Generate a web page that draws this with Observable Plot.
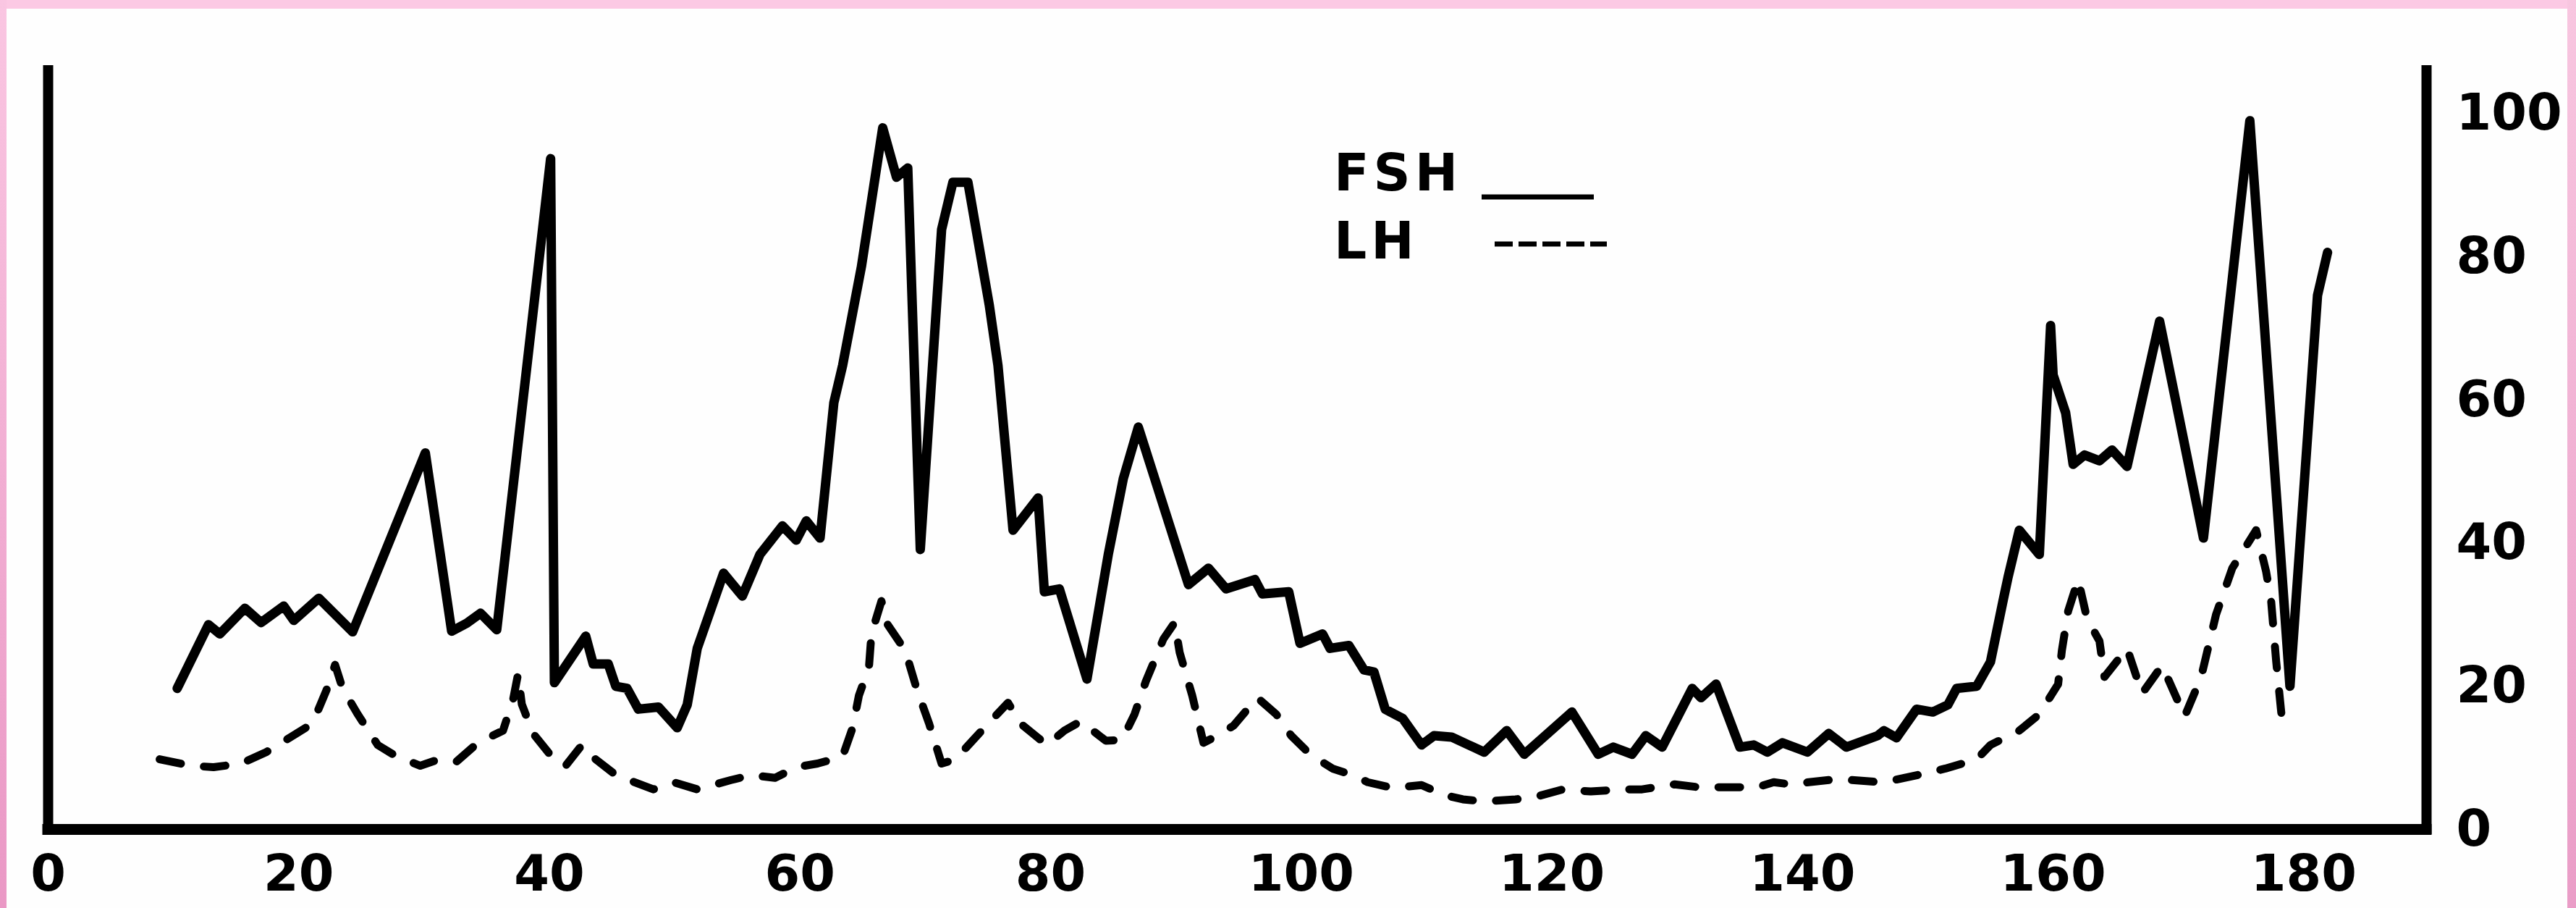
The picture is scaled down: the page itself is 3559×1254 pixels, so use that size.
<!DOCTYPE html>
<html>
<head>
<meta charset="utf-8">
<script src="https://cdn.jsdelivr.net/npm/d3@7"></script>
<script src="https://cdn.jsdelivr.net/npm/@observablehq/plot@0.6"></script>
<style>
  html, body { margin: 0; padding: 0; background: #ffffff; }
  #wrap { position: relative; width: 3559px; height: 1254px; overflow: hidden; background: #fefefe;
          font-family: "DejaVu Sans", sans-serif; font-weight: bold; color: #000; }
  #chart { position: absolute; left: 0; top: 0; }
  .strip { position: absolute; }
  #stripTop { left: 0; top: 0; width: 3559px; height: 12px; background: #fcc9e4; }
  #stripLeft { left: 0; top: 0; width: 9px; height: 1254px; background: linear-gradient(#fac6e2, #ea98c5); }
  #stripRight { left: 3547px; top: 0; width: 12px; height: 1254px; background: linear-gradient(#f8c6e0, #ea9dc7); }
  #legend { position: absolute; left: 1843px; top: 204px; }
  .item { position: relative; height: 94px; }
  .item .lab { position: absolute; left: 0; top: 0; font-size: 71px; line-height: 70px; letter-spacing: 6px; white-space: nowrap; }
  .item svg { position: absolute; }
</style>
</head>
<body>
<div id="wrap">
  <div class="strip" id="stripTop"></div>
  <div class="strip" id="stripLeft"></div>
  <div class="strip" id="stripRight"></div>
  <div id="chart"></div>
  <div id="legend"></div>
</div>
<script>
// Cycle day (x) and hormone level (y)
const fshDay = [10.3, 12.8, 13.7, 15.7, 17.0, 18.8, 19.6, 21.6, 24.3, 30.1, 32.2, 33.4, 34.5, 35.8, 40.1, 40.4,
  42.9, 43.5, 44.7, 45.3, 46.2, 47.1, 48.7, 50.2, 51.0, 51.8, 53.9, 55.4, 56.8, 58.6, 59.7, 60.5, 61.6, 62.7,
  63.4, 64.9, 66.6, 67.7, 68.6, 69.6, 71.3, 72.2, 73.4, 75.1, 75.8, 77.0, 79.0, 79.5, 80.7, 82.9, 84.6, 85.8,
  87.0, 91.0, 92.6, 94.0, 96.3, 96.9, 99.0, 99.9, 101.7, 102.3, 103.8, 105.0, 105.8, 106.7, 108.1, 109.6,
  110.6, 112.0, 114.6, 116.4, 117.8, 121.6, 123.7, 124.9, 126.4, 127.5, 128.8, 131.2, 131.9, 133.1, 135.0,
  136.1, 137.2, 138.4, 140.4, 142.1, 143.5, 146.0, 146.5, 147.5, 149.1, 150.4, 151.6, 152.3, 153.9, 155.0,
  156.0, 156.4, 157.3, 158.9, 159.8, 160.0, 161.0, 161.6, 162.5, 163.7, 164.7, 165.9, 168.5, 172.0, 175.7,
  178.9, 181.1, 181.9];
const fshValue = [19.7, 28.6, 27.3, 30.9, 28.9, 31.2, 29.2, 32.3, 27.6, 52.6, 27.7, 28.8, 30.2, 27.9, 93.7, 20.5,
  27.0, 23.1, 23.1, 20.0, 19.7, 16.8, 17.1, 14.2, 17.4, 25.3, 35.8, 32.6, 38.4, 42.4, 40.4, 43.1, 40.7, 59.6,
  64.8, 78.6, 98.0, 91.1, 92.4, 39.1, 83.8, 90.4, 90.4, 73.3, 64.8, 41.8, 46.3, 33.2, 33.6, 21.0, 38.4, 49.0,
  56.2, 34.2, 36.5, 33.6, 34.9, 32.9, 33.2, 26.0, 27.3, 25.3, 25.7, 22.3, 22.0, 16.8, 15.5, 11.8,
  13.1, 12.9, 10.8, 13.8, 10.5, 16.4, 10.5, 11.5, 10.5, 13.1, 11.5, 19.7, 18.4, 20.3, 11.5,
  11.8, 10.8, 12.1, 10.8, 13.4, 11.5, 13.1, 13.8, 12.8, 16.8, 16.4, 17.4, 19.7, 20.0, 23.4,
  31.9, 35.2, 41.8, 38.4, 70.4, 63.5, 58.2, 51.0, 52.3, 51.5, 53.0, 50.7, 71.0, 40.7, 99.0,
  20.0, 74.6, 80.6];

const lhDay = [8.9, 11.4, 13.2, 15.4, 17.4, 18.9, 21.1, 22.2, 22.9, 23.5, 24.7, 26.3, 27.8, 29.7, 31.2, 32.6,
  34.3, 36.3, 37.1, 37.5, 37.8, 38.7, 40.5, 41.3, 42.6, 43.4, 45.3, 48.3, 49.9, 51.8, 54.5, 56.1, 58.0, 59.7,
  61.4, 63.4, 64.2, 64.7, 65.5, 65.7, 66.5, 67.0, 68.4, 69.3, 70.3, 71.3, 72.4, 74.5, 76.6, 77.6, 79.0, 79.7,
  81.1, 82.4, 84.4, 85.7, 86.7, 87.6, 89.0, 89.9, 90.3, 91.3, 92.2, 93.3, 94.6, 96.5, 98.0, 99.2, 100.7,
  102.5, 104.1, 105.3, 107.3, 109.6, 111.4, 112.9, 114.6, 117.1, 118.8, 120.9, 123.1, 125.7, 127.2, 129.8,
  131.7, 134.4, 136.4, 137.7, 139.0, 142.1, 143.9, 146.2, 147.3, 150.0, 151.4, 153.9, 155.0, 157.3, 158.9,
  160.4, 160.7, 161.2, 162.0, 162.7, 163.7, 164.1, 165.9, 167.1, 168.7, 170.5, 171.8, 173.0, 174.3, 176.2,
  177.0, 177.4, 177.8, 178.3];
const lhValue = [9.8, 8.9, 8.7, 9.2, 10.8, 12.4, 14.8, 19.4, 23.0, 19.7, 16.1, 11.8, 10.2, 8.9, 9.8, 9.5,
  12.1, 13.8, 18.1, 21.7, 17.5, 13.4, 9.5, 8.9, 11.8, 10.2, 7.6, 5.6, 6.6, 5.6, 6.9, 7.6, 7.2, 8.7,
  9.2, 10.2, 14.2, 18.7, 22.6, 27.3, 31.9, 28.6, 25.0, 19.7, 14.8, 9.2, 9.8, 13.8, 17.7, 14.8, 12.8, 11.8,
  13.8, 15.1, 12.4, 12.5, 16.1, 20.7, 26.6, 28.9, 24.7, 18.7, 12.1, 13.1, 14.5, 18.4, 16.1, 13.1, 10.5,
  8.5, 7.6, 6.6, 5.8, 6.2, 4.8, 4.2, 3.9, 4.2, 4.6, 5.6, 5.3, 5.6, 5.6, 6.3,
  5.9, 5.9, 5.9, 6.6, 6.3, 6.9, 6.9, 6.6, 6.9, 7.9, 8.5, 9.8, 11.8, 13.8, 16.1,
  20.3, 25.0, 30.5, 34.9, 29.5, 26.3, 21.3, 25.3, 19.0, 22.9, 15.8, 21.2, 30.0, 36.5, 41.8,
  36.0, 31.9, 23.5, 14.7];

const xTicks = [0, 20, 40, 60, 80, 100, 120, 140, 160, 180];
const yTicks = [0, 20, 40, 60, 80, 100];
const xExtent = [0, 189.8];  // day range; also the left and right vertical axis lines
const yExtent = [0, 106];
const baseLine = [0];        // horizontal axis line (level)
const seriesNames = ["FSH", "LH"];
const seriesDash = [null, "25,8"];

const fsh = fshDay.map((d, i) => ({day: d, value: fshValue[i]}));
const lh = lhDay.map((d, i) => ({day: d, value: lhValue[i]}));

const chart = Plot.plot({
  width: 3559,
  height: 1254,
  marginTop: 97,
  marginBottom: 109,
  marginLeft: 66,
  marginRight: 207,
  style: {background: "transparent", fontFamily: "'DejaVu Sans', sans-serif", fontWeight: "bold",
          fontSize: "70px", color: "#000", overflow: "visible"},
  x: {domain: xExtent, ticks: xTicks, tickSize: 0, tickPadding: 35,
      label: null, axis: "bottom", tickFormat: d3.format("d")},
  y: {domain: yExtent, ticks: yTicks, tickSize: 0, tickPadding: 41, label: null, axis: "right",
      tickFormat: d3.format("d")},
  marks: [
    Plot.line(lh, {x: "day", y: "value", stroke: "#000", strokeWidth: 11, strokeDasharray: "30,32",
                   strokeLinecap: "round", strokeLinejoin: "round"}),
    Plot.line(fsh, {x: "day", y: "value", stroke: "#000", strokeWidth: 13,
                    strokeLinecap: "round", strokeLinejoin: "round"}),
    Plot.ruleX(xExtent, {stroke: "#000", strokeWidth: 14, strokeLinecap: "square"}),
    Plot.ruleY(baseLine, {stroke: "#000", strokeWidth: 15, strokeLinecap: "square"})
  ]
});
document.getElementById("chart").appendChild(chart);

// Legend (HTML overlay)
const legend = d3.select("#legend");
const sampleLeft = [204, 222];
const sampleTop = [58, 29];
seriesNames.forEach((name, i) => {
  const item = legend.append("div").attr("class", "item");
  item.append("div").attr("class", "lab").text(name);
  const svg = item.append("svg").attr("width", 160).attr("height", 20)
    .style("left", sampleLeft[i] + "px").style("top", sampleTop[i] + "px");
  svg.append("line").attr("x1", 0).attr("x2", 155).attr("y1", 10).attr("y2", 10)
    .attr("stroke", "#000").attr("stroke-width", 7)
    .attr("stroke-dasharray", seriesDash[i]);
});
</script>
</body>
</html>
